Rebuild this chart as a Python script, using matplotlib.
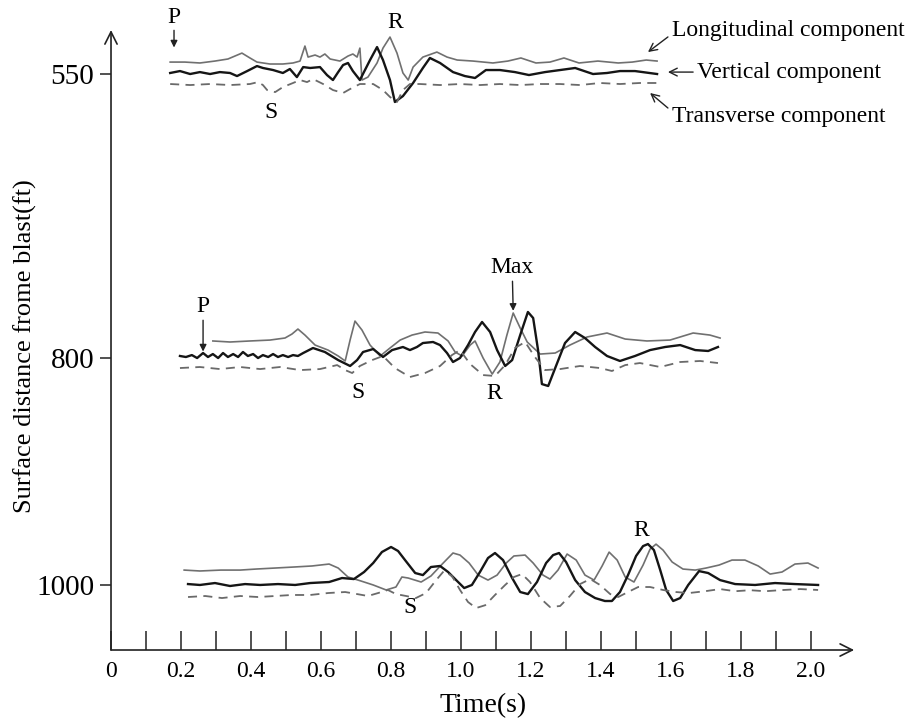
import matplotlib.pyplot as plt
import numpy as np

plt.rcParams['font.family'] = ['Liberation Serif', 'DejaVu Serif']

# stations (surface distance from blast, ft)
stations = [550, 800, 1000]

# --- 550 ft records: time (s), trace amplitude (ft units, up = positive)
t_l550 = [0.169, 0.211, 0.254, 0.297, 0.334, 0.374, 0.397, 0.417, 0.454, 0.491, 0.520, 0.540,
          0.554, 0.563, 0.583, 0.597, 0.611, 0.626, 0.654, 0.677, 0.691, 0.703, 0.711, 0.717,
          0.734, 0.760, 0.777, 0.797, 0.817, 0.834, 0.849, 0.863, 0.891, 0.931, 0.960, 0.989,
          1.034, 1.091, 1.134, 1.171, 1.214, 1.254, 1.294, 1.337, 1.391, 1.449, 1.489, 1.529, 1.560]
a_l550 = [10.3, 10.3, 9.5, 11.2, 13.0, 18.2, 13.9, 10.3, 8.6, 8.6, 9.5, 11.2,
          24.4, 14.7, 16.5, 14.7, 17.4, 13.0, 11.2, 15.6, 17.4, 14.7, 22.6, -5.5,
          -2.9, 9.5, 22.6, 32.3, 18.2, 0.7, -5.5, 5.9, 14.7, 19.1, 14.7, 12.1,
          11.2, 9.5, 11.2, 13.9, 9.5, 10.3, 13.9, 9.5, 11.2, 9.5, 10.3, 12.1, 11.2]

t_v550 = [0.169, 0.197, 0.226, 0.254, 0.283, 0.311, 0.340, 0.360, 0.389, 0.417, 0.434, 0.463,
          0.491, 0.511, 0.531, 0.549, 0.569, 0.597, 0.617, 0.634, 0.649, 0.663, 0.677, 0.691,
          0.711, 0.740, 0.760, 0.777, 0.797, 0.811, 0.834, 0.863, 0.891, 0.911, 0.940, 0.977,
          1.011, 1.040, 1.071, 1.111, 1.154, 1.194, 1.240, 1.283, 1.326, 1.377, 1.417, 1.454,
          1.497, 1.560]
a_v550 = [0.7, 2.4, -0.2, 1.5, -0.2, 1.5, 0.7, -2.0, 2.4, 6.8, 5.1, 3.3,
          0.7, 4.2, -2.9, 5.9, 5.1, 5.9, -1.1, -5.5, 1.5, 7.7, 9.5, 2.4,
          -5.5, 12.1, 23.5, 12.1, -5.5, -24.8, -19.6, -8.1, 5.1, 13.9, 9.5, 1.5,
          -2.0, -3.7, 3.3, 3.3, 1.5, -1.1, 1.5, 3.3, 5.1, -0.2, 0.7, 2.4,
          2.4, -0.2]

t_t550 = [0.169, 0.226, 0.283, 0.340, 0.397, 0.420, 0.434, 0.446, 0.469, 0.491, 0.520, 0.540,
          0.560, 0.577, 0.606, 0.634, 0.663, 0.683, 0.711, 0.749, 0.777, 0.797, 0.817, 0.834,
          0.854, 0.883, 0.940, 0.997, 1.054, 1.111, 1.169, 1.226, 1.283, 1.340, 1.397, 1.454,
          1.511, 1.560]
a_t550 = [-9.0, -9.9, -9.0, -9.9, -9.0, -7.3, -9.9, -14.3, -16.1, -11.7, -8.1, -5.5,
          -7.3, -4.6, -9.0, -14.3, -16.9, -13.4, -9.0, -9.0, -14.3, -20.4, -24.8, -14.3,
          -9.0, -9.0, -9.9, -9.0, -9.9, -9.0, -9.9, -9.0, -9.0, -9.9, -8.1, -9.0,
          -8.1, -8.1]

# --- 800 ft records
t_l800 = [0.291, 0.340, 0.397, 0.454, 0.497, 0.517, 0.534, 0.554, 0.583, 0.620, 0.649, 0.669,
          0.683, 0.697, 0.717, 0.740, 0.769, 0.797, 0.826, 0.860, 0.897, 0.934, 0.963, 0.983,
          1.003, 1.026, 1.040, 1.063, 1.089, 1.111, 1.131, 1.149, 1.169, 1.189, 1.226, 1.269,
          1.311, 1.360, 1.417, 1.469, 1.531, 1.597, 1.663, 1.711, 1.740]
a_l800 = [15.0, 14.1, 15.0, 15.8, 17.6, 21.1, 25.5, 20.2, 11.4, 7.0, 1.8, -2.6,
          15.8, 32.5, 24.6, 11.4, 1.8, 8.8, 15.8, 20.2, 22.9, 22.0, 15.0, 5.3,
          1.8, 11.4, 15.0, 0.0, -14.1, -3.5, 20.2, 39.6, 26.4, 14.1, 3.5, 4.4,
          11.4, 18.5, 22.0, 16.7, 15.0, 15.8, 22.0, 20.2, 17.6]

t_v800 = [0.197, 0.214, 0.231, 0.246, 0.263, 0.277, 0.291, 0.306, 0.320, 0.334, 0.349, 0.363,
          0.377, 0.391, 0.406, 0.420, 0.434, 0.449, 0.463, 0.477, 0.491, 0.506, 0.520, 0.534,
          0.549, 0.577, 0.611, 0.649, 0.683, 0.703, 0.720, 0.749, 0.777, 0.803, 0.834, 0.854,
          0.874, 0.891, 0.920, 0.940, 0.960, 0.977, 0.997, 1.020, 1.040, 1.060, 1.083, 1.103,
          1.126, 1.146, 1.169, 1.191, 1.206, 1.220, 1.231, 1.249, 1.269, 1.297, 1.326, 1.354,
          1.383, 1.417, 1.454, 1.497, 1.540, 1.583, 1.626, 1.669, 1.706, 1.734]
a_v800 = [1.8, 0.9, 2.6, 0.0, 4.4, 0.9, 3.5, 0.0, 4.4, 0.9, 3.5, 0.9,
          5.3, 1.8, 3.5, 0.0, 2.6, 0.9, 3.5, 0.9, 2.6, 0.9, 2.6, 1.8,
          4.4, 8.8, 5.3, -1.8, -7.0, -1.8, 5.3, 7.9, 0.9, 7.0, 9.7, 7.0,
          9.7, 13.2, 14.1, 11.4, 4.4, -3.5, 0.0, 11.4, 22.9, 31.7, 22.9, 7.0,
          -7.0, -1.8, 20.2, 40.5, 35.2, 7.0, -22.9, -24.6, -8.8, 13.2, 22.9, 17.6,
          9.7, 1.8, -2.6, 1.8, 7.0, 9.7, 11.4, 7.0, 6.2, 9.7]

t_t800 = [0.197, 0.254, 0.311, 0.369, 0.426, 0.483, 0.540, 0.597, 0.646, 0.669, 0.689, 0.711,
          0.746, 0.777, 0.811, 0.854, 0.897, 0.940, 0.974, 0.997, 1.026, 1.063, 1.097, 1.126,
          1.154, 1.183, 1.211, 1.240, 1.283, 1.340, 1.397, 1.431, 1.469, 1.511, 1.569, 1.626,
          1.683, 1.734]
a_t800 = [-8.8, -7.9, -9.7, -7.9, -9.7, -7.9, -10.6, -9.7, -6.2, -10.6, -13.2, -7.0,
          -1.8, 1.8, -8.8, -16.7, -13.2, -7.0, 2.6, 7.0, -5.3, -15.0, -15.8, -6.2,
          8.8, 14.1, 0.9, -10.6, -9.7, -7.0, -8.8, -11.4, -6.2, -4.4, -7.9, -3.5,
          -2.6, -4.4]

# --- 1000 ft records
t_l1000 = [0.209, 0.254, 0.314, 0.369, 0.414, 0.469, 0.523, 0.574, 0.623, 0.649, 0.677, 0.714,
           0.749, 0.786, 0.814, 0.831, 0.849, 0.886, 0.914, 0.949, 0.977, 0.997, 1.023, 1.049,
           1.077, 1.103, 1.129, 1.151, 1.183, 1.206, 1.234, 1.254, 1.277, 1.303, 1.329, 1.354,
           1.380, 1.403, 1.423, 1.446, 1.469, 1.494, 1.520, 1.540, 1.557, 1.577, 1.603, 1.634,
           1.669, 1.700, 1.737, 1.774, 1.811, 1.849, 1.883, 1.917, 1.954, 1.991, 2.020]
a_l1000 = [13.5, 12.7, 13.5, 13.5, 14.4, 15.3, 16.2, 17.1, 18.8, 15.3, 7.4, 3.9,
           0.4, -4.0, -1.4, 7.4, 6.5, 3.0, 8.3, 19.7, 28.5, 26.7, 19.7, 9.1,
           4.7, 9.1, 19.7, 25.9, 26.7, 19.7, 9.1, 5.6, 13.5, 27.6, 22.3, 9.1,
           4.7, 17.1, 29.3, 22.3, 7.4, 3.0, 17.9, 31.9, 36.3, 31.1, 20.6, 14.4,
           13.5, 15.3, 17.9, 22.3, 22.3, 17.1, 10.0, 11.8, 18.8, 19.7, 15.3]

t_v1000 = [0.220, 0.254, 0.297, 0.340, 0.383, 0.426, 0.477, 0.526, 0.569, 0.623, 0.660, 0.694,
           0.723, 0.749, 0.774, 0.800, 0.820, 0.840, 0.869, 0.891, 0.914, 0.940, 0.963, 0.986,
           1.009, 1.031, 1.054, 1.077, 1.097, 1.120, 1.146, 1.169, 1.191, 1.217, 1.243, 1.263,
           1.280, 1.300, 1.326, 1.354, 1.383, 1.411, 1.431, 1.454, 1.477, 1.500, 1.520, 1.534,
           1.551, 1.569, 1.586, 1.606, 1.626, 1.649, 1.680, 1.706, 1.740, 1.783, 1.840, 1.897,
           1.954, 2.020]
a_v1000 = [1.2, 0.4, 2.1, -0.5, 1.2, 0.4, 1.2, 0.4, 2.1, 3.0, 6.5, 5.6,
           11.8, 19.7, 29.4, 33.8, 30.3, 22.3, 10.9, 9.1, 16.2, 17.1, 11.8, 4.7,
           -2.3, 0.4, 11.8, 24.1, 28.5, 22.3, 6.5, -5.8, -7.6, 3.0, 19.7, 26.7,
           28.5, 20.6, 4.7, -5.8, -11.1, -13.7, -13.7, -5.8, 9.1, 25.9, 34.6, 36.4,
           31.1, 13.5, -4.0, -13.7, -11.1, 0.4, 12.6, 10.9, 4.7, 1.2, 0.4, 2.1,
           1.2, 0.4]

t_t1000 = [0.220, 0.269, 0.317, 0.369, 0.420, 0.469, 0.517, 0.569, 0.620, 0.669, 0.703, 0.734,
           0.763, 0.791, 0.814, 0.843, 0.871, 0.900, 0.929, 0.951, 0.974, 0.997, 1.020, 1.043,
           1.069, 1.097, 1.126, 1.151, 1.174, 1.197, 1.226, 1.254, 1.283, 1.311, 1.340, 1.369,
           1.397, 1.426, 1.449, 1.477, 1.506, 1.540, 1.577, 1.614, 1.651, 1.697, 1.740, 1.783,
           1.826, 1.869, 1.911, 1.969, 2.020]
a_t1000 = [-10.2, -9.3, -11.1, -9.3, -10.2, -9.3, -8.4, -8.4, -6.7, -5.8, -7.6, -9.3,
           -6.7, -4.0, -7.6, -9.3, -11.1, -6.7, 4.7, 12.7, 8.3, -4.0, -14.6, -19.9,
           -17.4, -8.4, 0.4, 7.4, 10.0, 3.0, -11.1, -19.0, -18.1, -9.3, 1.2, 5.6,
           0.4, -7.6, -10.2, -5.8, -1.4, -1.4, -4.0, -5.8, -6.7, -5.1, -3.2, -5.1,
           -4.2, -5.1, -4.2, -3.2, -4.0]

records = [
    (550, (t_l550, a_l550), (t_v550, a_v550), (t_t550, a_t550)),
    (800, (t_l800, a_l800), (t_v800, a_v800), (t_t800, a_t800)),
    (1000, (t_l1000, a_l1000), (t_v1000, a_v1000), (t_t1000, a_t1000)),
]

fig = plt.figure(figsize=(9.22, 7.18), dpi=100)
ax = fig.add_axes([0.1204, 0.0947, 0.806, 0.8635])

for dist, (tl, al), (tv, av), (tt, at) in records:
    ax.plot(tl, dist - np.array(al), color='#707070', lw=1.2, solid_joinstyle='round')
    ax.plot(tv, dist - np.array(av), color='#151515', lw=1.7, solid_joinstyle='round')
    ax.plot(tt, dist - np.array(at), color='#6a6a6a', lw=1.3, dashes=(5, 3.5))

ax.set_xlim(0, 2.123)
ax.set_ylim(1056.8, 511.5)

for s in ax.spines.values():
    s.set_visible(False)

# axes drawn as arrows
arrow_kw = dict(arrowstyle='->', lw=1.2, color='#222', shrinkA=0, shrinkB=0, mutation_scale=22)
ax.annotate('', xy=(0, 1), xytext=(0, 0), xycoords='axes fraction', arrowprops=arrow_kw)
ax.annotate('', xy=(1, 0), xytext=(0, 0), xycoords='axes fraction', arrowprops=arrow_kw)

ax.set_xticks(np.round(np.arange(0, 2.01, 0.2), 1))
ax.set_xticklabels(['0', '0.2', '0.4', '0.6', '0.8', '1.0', '1.2', '1.4', '1.6', '1.8', '2.0'])
ax.set_xticks(np.round(np.arange(0.1, 2.0, 0.2), 1), minor=True)
ax.tick_params(axis='x', which='both', direction='in', length=14, width=1.1, color='#222',
               labelsize=17, pad=8)
ax.set_yticks(stations)
ax.set_yticklabels([str(s) for s in stations])
ax.tick_params(axis='y', direction='out', length=8, width=1.1, color='#222', labelsize=21, pad=4)

ax.set_xlabel('Time(s)', fontsize=20, labelpad=8)
ax.set_ylabel('Surface distance frome blast(ft)', fontsize=19)
ax.yaxis.set_label_coords(-0.1, 0.49)

txt = dict(fontsize=17, ha='center', va='center', annotation_clip=False)
arr = dict(arrowstyle='-|>', lw=1.0, color='#222', shrinkA=0, shrinkB=0, mutation_scale=10)
open_arr = dict(arrowstyle='->', lw=1.0, color='#222', shrinkA=0, shrinkB=0, mutation_scale=14)

# phase labels
ax.annotate('P', xy=(0.180, 526.9), xytext=(0.180, 500.1), arrowprops=arr, **txt)
ax.annotate('S', xy=(0.457, 583.7), **txt)
ax.annotate('R', xy=(0.811, 504.5), **txt)
ax.annotate('P', xy=(0.263, 794.3), xytext=(0.263, 755.1), arrowprops=arr, **txt)
ax.annotate('Max', xy=(1.149, 758.5), xytext=(1.146, 720.8), arrowprops=arr, **txt)
ax.annotate('S', xy=(0.706, 829.9), **txt)
ax.annotate('R', xy=(1.094, 831.6), **txt)
ax.annotate('S', xy=(0.854, 1019.0), **txt)
ax.annotate('R', xy=(1.514, 951.3), **txt)

# component captions
cap = dict(fontsize=17, ha='left', va='center', annotation_clip=False)
ax.annotate('', xy=(1.534, 530.9), xytext=(1.591, 517.6), arrowprops=open_arr, annotation_clip=False)
ax.annotate('Longitudinal component', xy=(1.603, 511.5), **cap)
ax.annotate('', xy=(1.591, 548.5), xytext=(1.663, 548.5), arrowprops=open_arr, annotation_clip=False)
ax.annotate('Vertical component', xy=(1.674, 548.5), **cap)
ax.annotate('', xy=(1.540, 566.9), xytext=(1.591, 580.1), arrowprops=open_arr, annotation_clip=False)
ax.annotate('Transverse component', xy=(1.603, 588.0), **cap)

fig.savefig('out.png', dpi=100)
